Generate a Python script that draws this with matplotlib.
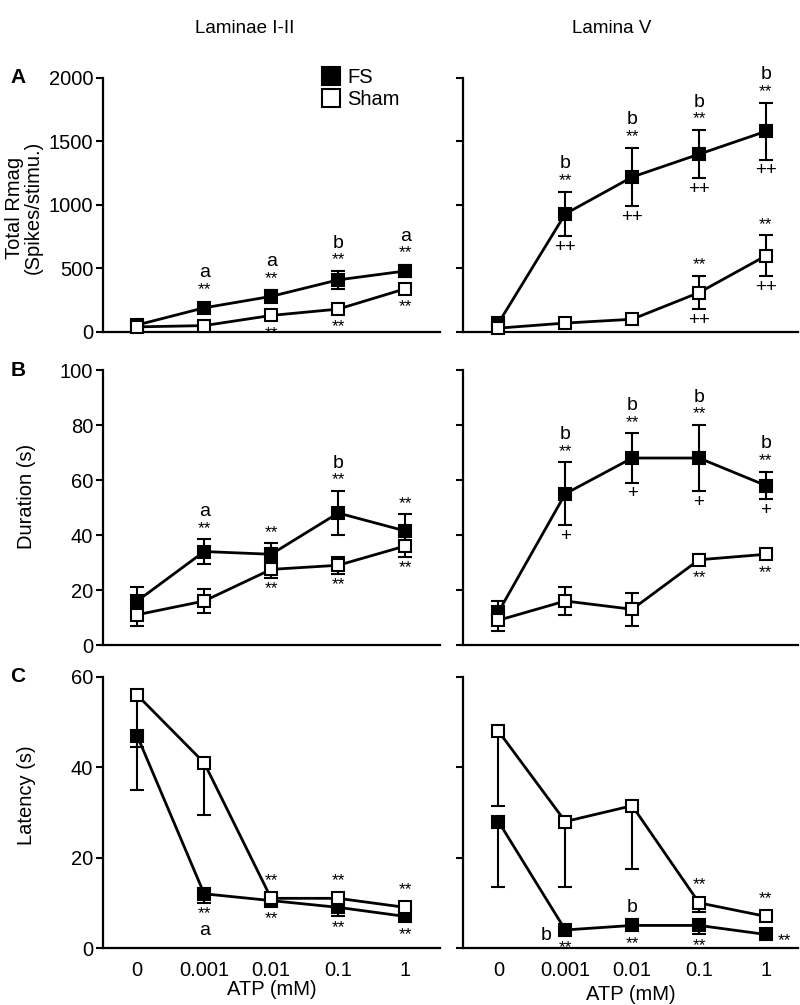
import numpy as np
import matplotlib.pyplot as plt
from matplotlib.lines import Line2D

plt.rcParams['font.family'] = ['Liberation Sans', 'DejaVu Sans']

atp_labels = ['0', '0.001', '0.01', '0.1', '1']
col_titles = ['Laminae I-II', 'Lamina V']

# A: total Rmag (spikes/stimu.)
rmag_fs_12 = [55, 190, 280, 410, 480]
rmag_fs_12_err = [20, 40, 50, 70, 50]
rmag_sh_12 = [40, 50, 130, 180, 340]
rmag_sh_12_err = [15, 20, 30, 30, 40]
rmag_fs_5 = [70, 930, 1220, 1400, 1580]
rmag_fs_5_err = [30, 175, 230, 190, 225]
rmag_sh_5 = [30, 70, 100, 310, 600]
rmag_sh_5_err = [10, 15, 20, 130, 160]

# B: duration (s)
dur_fs_12 = [16, 34, 33, 48, 41.5]
dur_fs_12_err = [5, 4.5, 4, 8, 6]
dur_sh_12 = [11, 16, 27.5, 29, 36]
dur_sh_12_err = [4, 4.5, 3, 3, 4]
dur_fs_5 = [12, 55, 68, 68, 58]
dur_fs_5_err = [4, 11.5, 9, 12, 5]
dur_sh_5 = [9, 16, 13, 31, 33]
dur_sh_5_err = [4, 5, 6, 2, 1]

# C: latency (s), only lower error shown
lat_fs_12 = [47, 12, 10.5, 9, 7]
lat_fs_12_err = [12, 2, 0.5, 2, 1]
lat_sh_12 = [56, 41, 11, 11, 9]
lat_sh_12_err = [11.5, 11.6, 0.5, 0.5, 0.5]
lat_fs_5 = [28, 4, 5, 5, 3]
lat_fs_5_err = [14.5, 0.5, 0.5, 2, 0.5]
lat_sh_5 = [48, 28, 31.5, 10, 7]
lat_sh_5_err = [16.5, 14.5, 14, 2, 0.5]

# significance marks: (series, point, side, labels from nearest outward)
notes_a12 = [('fs', 1, 'up', ['**', 'a']), ('fs', 2, 'up', ['**', 'a']),
             ('fs', 3, 'up', ['**', 'b']), ('fs', 4, 'up', ['**', 'a']),
             ('sh', 2, 'down', ['**']), ('sh', 3, 'down', ['**']), ('sh', 4, 'down', ['**'])]
notes_a5 = [('fs', i, 'up', ['**', 'b']) for i in range(1, 5)] + \
           [('fs', i, 'down', ['++']) for i in range(1, 5)] + \
           [('sh', 3, 'up', ['**']), ('sh', 4, 'up', ['**']),
            ('sh', 3, 'down', ['++']), ('sh', 4, 'down', ['++'])]
notes_b12 = [('fs', 1, 'up', ['**', 'a']), ('fs', 2, 'up', ['**']),
             ('fs', 3, 'up', ['**', 'b']), ('fs', 4, 'up', ['**']),
             ('sh', 2, 'down', ['**']), ('sh', 3, 'down', ['**']), ('sh', 4, 'down', ['**'])]
notes_b5 = [('fs', i, 'up', ['**', 'b']) for i in range(1, 5)] + \
           [('fs', i, 'down', ['+']) for i in range(1, 5)] + \
           [('sh', 3, 'down', ['**']), ('sh', 4, 'down', ['**'])]
notes_c12 = [('fs', 1, 'down', ['**', 'a']), ('sh', 2, 'up', ['**']), ('fs', 2, 'down', ['**']),
             ('sh', 3, 'up', ['**']), ('fs', 3, 'down', ['**']),
             ('sh', 4, 'up', ['**']), ('fs', 4, 'down', ['**'])]
notes_c5 = [('fs', 1, 'left', ['b']), ('fs', 1, 'down', ['**']),
            ('fs', 2, 'up', ['b']), ('fs', 2, 'down', ['**']),
            ('sh', 3, 'up', ['**']), ('fs', 3, 'down', ['**']),
            ('sh', 4, 'up', ['**']), ('fs', 4, 'right', ['**'])]

panels = [
    [(rmag_fs_12, rmag_fs_12_err, rmag_sh_12, rmag_sh_12_err, notes_a12),
     (rmag_fs_5, rmag_fs_5_err, rmag_sh_5, rmag_sh_5_err, notes_a5)],
    [(dur_fs_12, dur_fs_12_err, dur_sh_12, dur_sh_12_err, notes_b12),
     (dur_fs_5, dur_fs_5_err, dur_sh_5, dur_sh_5_err, notes_b5)],
    [(lat_fs_12, lat_fs_12_err, lat_sh_12, lat_sh_12_err, notes_c12),
     (lat_fs_5, lat_fs_5_err, lat_sh_5, lat_sh_5_err, notes_c5)],
]
ylims = [(0, 2000), (0, 100), (0, 60)]
yticks = [[0, 500, 1000, 1500, 2000], [0, 20, 40, 60, 80, 100], [0, 20, 40, 60]]
ylabels = ['Total Rmag\n(Spikes/stimu.)', 'Duration (s)', 'Latency (s)']
ylabel_xy = [(-0.178, 0.49), (-0.2, 0.54), (-0.2, 0.565)]
letters = ['A', 'B', 'C']

fig = plt.figure(figsize=(8, 10.05), dpi=100)
col_x = [(0.12875, 0.42125), (0.57875, 0.41875)]
title_x = [0.306, 0.765]
xlims = [(-0.51, 4.52), (-0.53, 4.48)]
row_y = [(0.6697, 0.2527), (0.3582, 0.2736), (0.0567, 0.2697)]

FS_ = 14.5


def fsize(s):
    if '*' in s:
        return 12.5
    if '+' in s:
        return 13.5
    return 14


def mark(ax, x, y, eu, ed, side, labels):
    tr = ax.transData
    ypx = tr.transform((x, y))[1]
    half = 7
    if side in ('up', 'down'):
        if side == 'up':
            ext = max(tr.transform((x, y + eu))[1] - ypx, half)
            sgn = 1
        else:
            ext = max(ypx - tr.transform((x, y - ed))[1], half)
            sgn = -1
        off = ext + 11
        for lab in labels:
            ax.annotate(lab, (x, y), xytext=(0, sgn * off), textcoords='offset pixels',
                        ha='center', va='center', fontsize=fsize(lab), annotation_clip=False)
            off += 17
    else:
        dx = -19 if side == 'left' else 19
        ax.annotate(labels[0], (x, y), xytext=(dx, -6), textcoords='offset pixels',
                    ha='center', va='center', fontsize=fsize(labels[0]), annotation_clip=False)


for r in range(3):
    for c in range(2):
        fs, fs_err, sh, sh_err, notes = panels[r][c]
        ax = fig.add_axes([col_x[c][0], row_y[r][0], col_x[c][1], row_y[r][1]])
        xs = np.arange(len(atp_labels))
        ax.set_xlim(*xlims[c])
        ax.set_ylim(*ylims[r])
        if r == 2:
            fs_e = [fs_err, np.zeros(5)]
            sh_e = [sh_err, np.zeros(5)]
        else:
            fs_e, sh_e = fs_err, sh_err
        ax.errorbar(xs, fs, yerr=fs_e, fmt='none', ecolor='black', elinewidth=1.5,
                    capsize=5, capthick=1.5, zorder=1, clip_on=False)
        ax.errorbar(xs, sh, yerr=sh_e, fmt='none', ecolor='black', elinewidth=1.5,
                    capsize=5, capthick=1.5, zorder=1, clip_on=False)
        ax.plot(xs, fs, '-s', color='black', mfc='black', mec='black', ms=9, mew=1.5,
                lw=2, zorder=3, clip_on=False)
        ax.plot(xs, sh, '-s', color='black', mfc='white', mec='black', ms=9, mew=1.5,
                lw=2, zorder=4, clip_on=False)

        data = {'fs': (fs, fs_e), 'sh': (sh, sh_e)}
        for ser, i, side, labs in notes:
            vals, e = data[ser]
            if r == 2:
                eu, ed = 0, e[0][i]
            else:
                eu = ed = e[i]
            mark(ax, xs[i], vals[i], eu, ed, side, labs)

        for s in ('top', 'right'):
            ax.spines[s].set_visible(False)
        for s in ('left', 'bottom'):
            ax.spines[s].set_linewidth(1.6)
        ax.set_yticks(yticks[r])
        ax.tick_params(axis='y', direction='out', length=5, width=1.5, pad=2, labelsize=FS_)
        ax.tick_params(axis='x', length=0, pad=9, labelsize=FS_)
        ax.set_xticks(xs)
        if r == 2:
            ax.set_xticklabels(atp_labels)
            ax.set_xlabel('ATP (mM)', fontsize=FS_, labelpad=0 if c == 0 else 4)
        else:
            ax.set_xticklabels([])
        if c == 0:
            ax.set_ylabel(ylabels[r], fontsize=FS_, linespacing=1.0)
            ax.yaxis.set_label_coords(*ylabel_xy[r])
            fig.text(0.013, row_y[r][0] + row_y[r][1], letters[r], fontsize=15,
                     fontweight='bold', va='center', ha='left')
        else:
            ax.set_yticklabels([])
        if r == 0:
            fig.text(title_x[c], 0.972, col_titles[c], fontsize=13.5, ha='center', va='center')
        if r == 0 and c == 0:
            handles = [Line2D([], [], ls='none', marker='s', ms=13, mfc='black', mec='black', mew=1.5),
                       Line2D([], [], ls='none', marker='s', ms=13, mfc='white', mec='black', mew=1.5)]
            ax.legend(handles, ['FS', 'Sham'], loc='upper left', bbox_to_anchor=(0.65, 1.04),
                      frameon=False, fontsize=FS_, handlelength=0.9, handletextpad=0.35,
                      labelspacing=0.15, borderpad=0, borderaxespad=0)

fig.savefig('out.png', dpi=100)
